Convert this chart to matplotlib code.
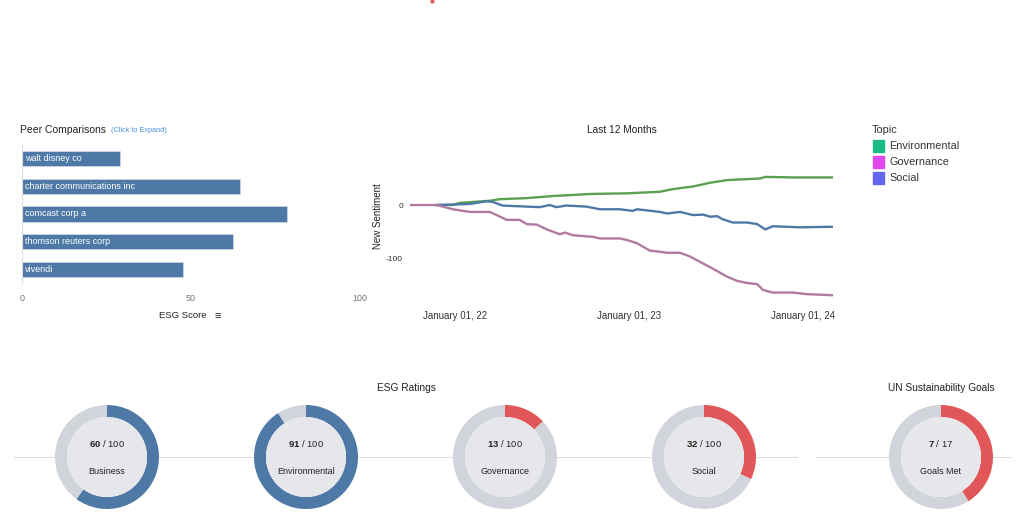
import matplotlib
matplotlib.use('Agg')
import matplotlib.pyplot as plt
import matplotlib.dates as mdates
from matplotlib.lines import Line2D
from matplotlib.patches import Rectangle, Circle
import pandas as pd

plt.rcParams['font.family'] = ['Liberation Sans', 'DejaVu Sans']
plt.rcParams['mathtext.fontset'] = 'custom'
plt.rcParams['mathtext.rm'] = 'Liberation Sans'
plt.rcParams['mathtext.bf'] = 'Liberation Sans:bold'
plt.rcParams['axes.unicode_minus'] = False

# peer comparisons
peers = ['walt disney co', 'charter communications inc', 'comcast corp a',
         'thomson reuters corp', 'vivendi']
peer_scores = [29, 64.5, 78.5, 62.5, 47.5]

# sentiment over time
gov_dates = ['2021-09-29', '2021-11-24', '2021-12-28', '2022-02-01', '2022-03-15',
             '2022-03-30', '2022-04-20', '2022-05-17', '2022-06-01', '2022-06-22',
             '2022-07-13', '2022-08-09', '2022-08-20', '2022-09-06', '2022-10-18',
             '2022-11-01', '2022-12-13', '2022-12-28', '2023-01-18', '2023-02-14',
             '2023-03-07', '2023-03-22', '2023-04-18', '2023-05-09', '2023-05-30',
             '2023-06-26', '2023-07-26', '2023-08-16', '2023-09-06', '2023-09-27',
             '2023-10-09', '2023-10-30', '2023-12-11', '2024-01-10', '2024-03-04']
gov_vals = [0, 0, -8, -13, -13, -19, -28, -28, -36, -37, -46, -55, -52, -57, -60,
            -63, -63, -66, -72, -86, -88, -90, -90, -97, -107, -120, -135, -143,
            -147, -149, -160, -165, -165, -168, -170]

env_dates = ['2021-11-24', '2021-12-28', '2022-01-11', '2022-03-15', '2022-04-05',
             '2022-06-01', '2022-07-26', '2022-10-18', '2022-12-28', '2023-03-07',
             '2023-04-03', '2023-05-16', '2023-06-20', '2023-07-26', '2023-10-03',
             '2023-10-14', '2023-12-11', '2024-03-04']
env_vals = [0, 0, 4, 8, 11, 13, 17, 21, 22, 25, 30, 35, 42, 47, 50, 53, 52, 52]

soc_dates = ['2021-11-24', '2022-02-01', '2022-03-08', '2022-03-21', '2022-04-11',
             '2022-06-01', '2022-06-28', '2022-07-19', '2022-08-02', '2022-08-23',
             '2022-10-04', '2022-11-01', '2022-12-13', '2023-01-09', '2023-01-18',
             '2023-03-07', '2023-03-22', '2023-04-18', '2023-05-16', '2023-06-06',
             '2023-06-20', '2023-07-05', '2023-07-17', '2023-08-07', '2023-09-06',
             '2023-09-27', '2023-10-14', '2023-10-30', '2023-12-26', '2024-03-04']
soc_vals = [0, 2, 7, 6, -1, -3, -4, 0, -4, -1, -3, -8, -8, -11, -8, -13, -16, -13,
            -19, -18, -22, -21, -27, -33, -33, -36, -46, -40, -42, -41]

topics = ['Environmental', 'Governance', 'Social']
topic_colors = ['#1dbb86', '#e047ea', '#6366f1']

# ratings donuts
rating_labels = ['Business', 'Environmental', 'Governance', 'Social', 'Goals Met']
rating_values = [60, 91, 13, 32, 7]
rating_max = [100, 100, 100, 100, 17]
rating_colors = ['#4e79a7', '#4e79a7', '#e15759', '#e15759', '#e15759']

W, H = 1024, 523
fig = plt.figure(figsize=(W / 100, H / 100), dpi=100)


def box(l, t, r, b):
    return [l / W, 1 - b / H, (r - l) / W, (b - t) / H]


def fx(x):
    return x / W


def fy(y):
    return 1 - y / H


# --- bar chart ---
ax = fig.add_axes(box(22, 145, 360, 283))
ypos = list(range(len(peers)))
ax.barh(ypos, peer_scores, height=0.55, color='#4e79a7', edgecolor='#c9d6e6', linewidth=0.6)
for y, name in zip(ypos, peers):
    ax.text(1.0, y, name, color='white', fontsize=6.5, va='center', ha='left')
ax.set_xlim(0, 100)
ax.set_ylim(4.5, -0.5)
ax.set_yticks([])
ax.set_xticks([0, 50, 100])
ax.tick_params(axis='x', length=0, pad=8, labelsize=6.5, labelcolor='#777777')
for s in ['top', 'right', 'bottom']:
    ax.spines[s].set_visible(False)
ax.spines['left'].set_color('#dddddd')
fig.text(fx(20), fy(130), 'Peer Comparisons', fontsize=7.5, va='center', color='#222222')
fig.text(fx(111), fy(130.5), '(Click to Expand)', fontsize=5.3, va='center', color='#4a90e2')
fig.text(fx(183), fy(316), 'ESG Score', fontsize=6.8, va='center', ha='center', color='#222222')
fig.text(fx(218), fy(316), '\u2261', fontsize=8, va='center', ha='center', color='#222222')

# --- sentiment lines ---
ax2 = fig.add_axes(box(410, 170, 833, 300))
ax2.plot(pd.to_datetime(env_dates), env_vals, color='#59a14f', lw=1.7)
ax2.plot(pd.to_datetime(soc_dates), soc_vals, color='#4e79a7', lw=1.7)
ax2.plot(pd.to_datetime(gov_dates), gov_vals, color='#b07aa1', lw=1.7)
ax2.set_xlim(pd.Timestamp('2021-09-29'), pd.Timestamp('2024-03-04'))
ax2.set_ylim(-179, 66)
ax2.set_yticks([0, -100])
ax2.set_xticks(pd.to_datetime(['2022-01-01', '2023-01-01', '2024-01-01']))
ax2.xaxis.set_major_formatter(mdates.DateFormatter('January %d, %y'))
ax2.tick_params(axis='x', length=0, pad=8, labelsize=7, labelcolor='#333333')
ax2.tick_params(axis='y', length=0, pad=5, labelsize=6, labelcolor='#333333')
for s in ax2.spines.values():
    s.set_visible(False)
ax2.patch.set_alpha(0)
fig.text(fx(378), fy(216), 'New Sentiment', fontsize=7, rotation=90, va='center', ha='center',
         color='#222222')
fig.text(fx(622), fy(130), 'Last 12 Months', fontsize=7.3, va='center', ha='center', color='#222222')

# legend
fig.text(fx(872), fy(130), 'Topic', fontsize=7.8, va='center', ha='left', color='#333333')
for i, (t, c) in enumerate(zip(topics, topic_colors)):
    yc = 146 + 16 * i
    fig.add_artist(Rectangle((fx(873), fy(yc + 5.5)), 11 / W, 11 / H, color=c,
                             transform=fig.transFigure))
    fig.text(fx(889), fy(yc), t, fontsize=7.8, va='center', ha='left', color='#333333')

# --- donuts ---
fig.add_artist(Line2D([fx(14), fx(797)], [fy(457), fy(457)], color='#dddddd', lw=0.8, zorder=-1))
fig.add_artist(Line2D([fx(816), fx(1010)], [fy(457), fy(457)], color='#dddddd', lw=0.8, zorder=-1))
centers = [107, 306, 505, 704, 941]
for cx, lab, v, m, c in zip(centers, rating_labels, rating_values, rating_max, rating_colors):
    axd = fig.add_axes(box(cx - 55, 457 - 55, cx + 55, 457 + 55))
    axd.pie([v, m - v], colors=[c, '#d1d4db'], startangle=90, counterclock=False,
            radius=52 / 55, wedgeprops=dict(width=12 / 55, linewidth=0))
    axd.add_patch(Circle((0, 0), 40 / 55, color='#e6e7eb', linewidth=0))
    axd.text(0, 0.25, r'$\mathbf{%d}$ / %d' % (v, m), fontsize=6.8, ha='center', va='center',
             color='#222222')
    axd.text(0, -0.27, lab, fontsize=6.5, ha='center', va='center', color='#222222')
    axd.set_xlim(-1, 1)
    axd.set_ylim(-1, 1)
    axd.set_aspect('equal')
    axd.axis('off')

fig.text(fx(406), fy(388), 'ESG Ratings', fontsize=7.3, va='center', ha='center', color='#222222')
fig.text(fx(941), fy(388), 'UN Sustainability Goals', fontsize=7.3, va='center', ha='center',
         color='#222222')

# small red mark at top
fig.add_artist(Line2D([fx(432)], [fy(1)], marker='o', markersize=2, color='#e15759', lw=0))

fig.savefig('out.png', dpi=100)
